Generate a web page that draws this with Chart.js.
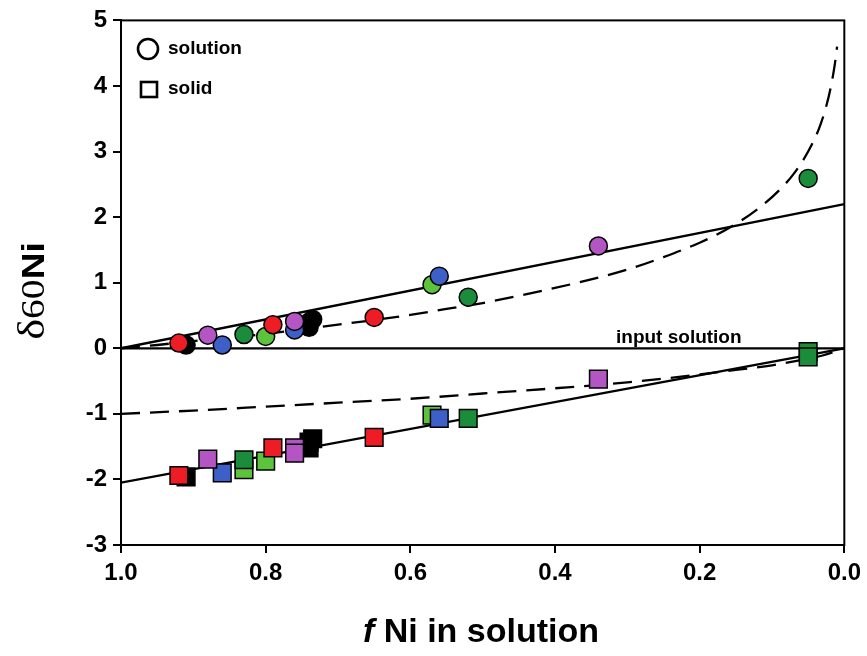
<!DOCTYPE html>
<html>
<head>
<meta charset="utf-8">
<script src="https://cdn.jsdelivr.net/npm/chart.js@4.4.1/dist/chart.umd.min.js"></script>
<style>
html,body{margin:0;padding:0;background:#fff;}
#wrap{width:867px;height:656px;}
</style>
</head>
<body>
<div id="wrap"><canvas id="c" width="867" height="656"></canvas></div>
<script>
// ---- data ----
const xTicks = [1.0, 0.8, 0.6, 0.4, 0.2, 0.0];
const yTicks = [-3, -2, -1, 0, 1, 2, 3, 4, 5];

// solution (circles)
const solRedF = [0.92, 0.79, 0.65];        const solRedY = [0.08, 0.36, 0.47];
const solPurpleF = [0.88, 0.76, 0.34];     const solPurpleY = [0.20, 0.41, 1.56];
const solBlueF = [0.86, 0.76, 0.56];       const solBlueY = [0.05, 0.28, 1.10];
const solDkGreenF = [0.83, 0.52, 0.05];    const solDkGreenY = [0.21, 0.78, 2.59];
const solLtGreenF = [0.80, 0.57];          const solLtGreenY = [0.18, 0.97];
const solBlackF = [0.91, 0.74, 0.74, 0.735]; const solBlackY = [0.05, 0.32, 0.40, 0.44];

// solid (squares)
const sldRedF = [0.92, 0.79, 0.65];        const sldRedY = [-1.94, -1.52, -1.36];
const sldPurpleF = [0.88, 0.76, 0.76, 0.34]; const sldPurpleY = [-1.69, -1.52, -1.60, -0.47];
const sldBlueF = [0.86, 0.56];             const sldBlueY = [-1.90, -1.07];
const sldDkGreenF = [0.83, 0.52, 0.05, 0.05]; const sldDkGreenY = [-1.70, -1.07, -0.05, -0.13];
const sldLtGreenF = [0.83, 0.80, 0.57];    const sldLtGreenY = [-1.85, -1.72, -1.02];
const sldBlackF = [0.91, 0.74, 0.74, 0.735]; const sldBlackY = [-1.96, -1.52, -1.43, -1.38];

// model curves
const upDashF = [1.0, 0.95, 0.9, 0.85, 0.8, 0.75, 0.7, 0.65, 0.6, 0.55, 0.5, 0.45, 0.4, 0.35, 0.3, 0.25, 0.2, 0.16, 0.12, 0.09, 0.07, 0.05, 0.035, 0.025, 0.018, 0.013, 0.01];
const upDashY = [0, 0.05, 0.11, 0.16, 0.22, 0.29, 0.36, 0.43, 0.51, 0.60, 0.69, 0.80, 0.92, 1.05, 1.20, 1.39, 1.61, 1.83, 2.12, 2.41, 2.66, 3.00, 3.35, 3.69, 4.02, 4.34, 4.60];
const loDashF = [1.0, 0.9, 0.8, 0.7, 0.6, 0.5, 0.4, 0.3, 0.2, 0.15, 0.1, 0.06, 0.03, 0.0];
const loDashY = [-1.0, -0.95, -0.89, -0.83, -0.77, -0.69, -0.61, -0.52, -0.40, -0.33, -0.26, -0.18, -0.11, 0.0];
const upSolidF = [1.0, 0.0];  const upSolidY = [0.0, 2.2];
const loSolidF = [1.0, 0.0];  const loSolidY = [-2.05, 0.0];
const inputF = [1.0, 0.0];    const inputY = [0.0, 0.0];

// ---- build ----
const RED = '#ee1c24', PURPLE = '#b455c4', BLUE = '#3f5fc8', DKGREEN = '#1a8c3c', LTGREEN = '#5cc43c', BLACK = '#000000';
const zip = (f, y) => f.map((v, i) => ({x: v, y: y[i]}));
const circ = (f, y, c) => ({data: zip(f, y), showLine: false, pointStyle: 'circle', pointRadius: 9, pointHoverRadius: 9,
  backgroundColor: c, borderColor: '#000', pointBorderWidth: 1.5});
const sq = (f, y, c) => ({data: zip(f, y), showLine: false, pointStyle: 'rect', pointRadius: 12.5, pointHoverRadius: 12.5,
  backgroundColor: c, borderColor: '#000', pointBorderWidth: 1.5});
const line = (f, y, dash) => ({data: zip(f, y), showLine: true, pointRadius: 0, borderColor: '#000', borderWidth: 2.3,
  borderDash: dash, fill: false, cubicInterpolationMode: 'monotone', backgroundColor: '#000'});

const datasets = [
  circ(solRedF, solRedY, RED),
  circ(solPurpleF, solPurpleY, PURPLE),
  circ(solBlueF, solBlueY, BLUE),
  circ(solDkGreenF, solDkGreenY, DKGREEN),
  circ(solLtGreenF, solLtGreenY, LTGREEN),
  circ(solBlackF, solBlackY, BLACK),
  sq(sldRedF, sldRedY, RED),
  sq(sldPurpleF, sldPurpleY, PURPLE),
  sq(sldBlueF, sldBlueY, BLUE),
  sq(sldDkGreenF, sldDkGreenY, DKGREEN),
  sq(sldLtGreenF, sldLtGreenY, LTGREEN),
  sq(sldBlackF, sldBlackY, BLACK),
  line(upDashF, upDashY, [19, 10]),
  line(loDashF, loDashY, [19, 10]),
  line(upSolidF, upSolidY, []),
  line(loSolidF, loSolidY, []),
  line(inputF, inputY, [])
];

const decor = {
  id: 'decor',
  afterDraw(chart) {
    const ctx = chart.ctx, a = chart.chartArea;
    ctx.save();
    ctx.strokeStyle = '#000';
    ctx.lineWidth = 2;
    ctx.strokeRect(a.left, a.top, a.right - a.left, a.bottom - a.top);
    // legend
    ctx.lineWidth = 2.6;
    ctx.beginPath(); ctx.arc(148, 49, 10, 0, Math.PI * 2); ctx.stroke();
    ctx.strokeRect(141, 82, 16, 15);
    ctx.fillStyle = '#000';
    ctx.font = 'bold 19px "Liberation Sans", Arial, sans-serif';
    ctx.textBaseline = 'middle'; ctx.textAlign = 'left';
    ctx.fillText('solution', 168, 49);
    ctx.fillText('solid', 168, 89);
    // input solution label
    ctx.textBaseline = 'alphabetic';
    ctx.font = 'bold 19px "Liberation Sans", Arial, sans-serif';
    ctx.fillText('input solution', 616, 343);
    // x title
    const t1 = 'f', t2 = ' Ni in solution';
    ctx.font = 'italic bold 34px "Liberation Sans", Arial, sans-serif';
    const w1 = ctx.measureText(t1).width;
    ctx.font = 'bold 34px "Liberation Sans", Arial, sans-serif';
    const w2 = ctx.measureText(t2).width;
    let x0 = 481 - (w1 + w2) / 2;
    ctx.font = 'italic bold 34px "Liberation Sans", Arial, sans-serif';
    ctx.fillText(t1, x0, 642);
    ctx.font = 'bold 34px "Liberation Sans", Arial, sans-serif';
    ctx.fillText(t2, x0 + w1, 642);
    // y title
    ctx.translate(44, 291);
    ctx.rotate(-Math.PI / 2);
    ctx.scale(1.2, 1);
    const parts = [
      ['δ', '37px "Liberation Serif", "DejaVu Serif", serif'],
      ['60', '33px "Liberation Serif", "DejaVu Serif", serif'],
      ['Ni', 'bold 31px "Liberation Sans", Arial, sans-serif']
    ];
    let tw = 0;
    parts.forEach(p => { ctx.font = p[1]; tw += ctx.measureText(p[0]).width; });
    let px = -tw / 2;
    parts.forEach(p => { ctx.font = p[1]; ctx.fillText(p[0], px, 0); px += ctx.measureText(p[0]).width; });
    ctx.restore();
  }
};

new Chart(document.getElementById('c'), {
  type: 'scatter',
  data: {datasets},
  options: {
    responsive: false,
    animation: false,
    events: [],
    layout: {padding: {top: 19, right: 18, left: 0, bottom: 0}},
    plugins: {legend: {display: false}, tooltip: {enabled: false}},
    scales: {
      x: {
        type: 'linear', reverse: true, min: 0, max: 1,
        afterFit: s => { s.height = 111; },
        afterBuildTicks: s => { s.ticks = xTicks.map(v => ({value: v})); },
        ticks: {color: '#000', font: {family: '"Liberation Sans", Arial, sans-serif', size: 24, weight: 'bold'},
          padding: 6, maxRotation: 0, callback: v => Number(v).toFixed(1)},
        grid: {drawOnChartArea: false, drawTicks: true, tickLength: 8, color: '#000', lineWidth: 2},
        border: {display: true, color: '#000', width: 2}
      },
      y: {
        type: 'linear', min: -3, max: 5,
        afterFit: s => { s.width = 121; },
        afterBuildTicks: s => { s.ticks = yTicks.map(v => ({value: v})); },
        ticks: {color: '#000', font: {family: '"Liberation Sans", Arial, sans-serif', size: 24, weight: 'bold'},
          padding: 6, callback: v => String(v)},
        grid: {drawOnChartArea: false, drawTicks: true, tickLength: 8, color: '#000', lineWidth: 2},
        border: {display: true, color: '#000', width: 2}
      }
    }
  },
  plugins: [decor]
});
</script>
</body>
</html>
